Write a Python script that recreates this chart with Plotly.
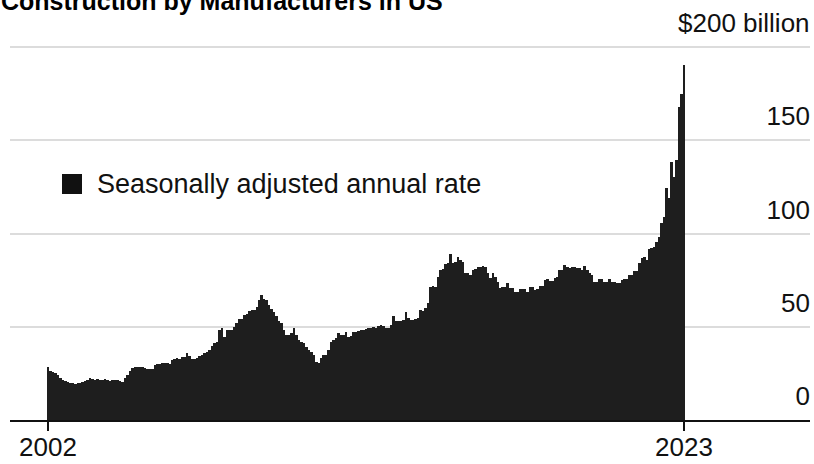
import pandas as pd
import plotly.graph_objects as go

# Monthly construction spending by manufacturers, seasonally adjusted annual rate ($ billion)
values = [
    28.2, 26.5, 25.5, 25.0, 24.0, 22.5, 21.5, 20.8, 20.3, 20.0, 19.7, 19.5,
    19.6, 20.0, 20.5, 21.0, 21.5, 22.5, 22.0, 21.5, 21.8, 21.5, 21.3, 21.8,
    21.2, 21.0, 21.4, 21.2, 21.5, 21.0, 20.5, 22.5, 24.0, 26.5, 28.0, 28.6,
    28.4, 28.5, 28.6, 28.0, 27.2, 27.2, 27.5, 29.5, 30.0, 30.2, 30.3, 30.5,
    30.8, 30.0, 32.0, 32.8, 33.0, 32.5, 33.8, 33.8, 36.0, 34.3, 32.5, 32.6,
    33.5, 34.3, 34.8, 35.7, 36.6, 37.5, 39.7, 41.4, 42.0, 48.2, 49.5, 44.7,
    48.0, 48.3, 48.5, 50.0, 51.8, 54.0, 54.2, 56.5, 57.0, 58.6, 59.0, 59.0,
    60.5, 64.3, 67.0, 65.0, 64.3, 61.5, 59.5, 58.0, 55.7, 53.0, 52.0, 48.0,
    45.5, 45.8, 46.4, 49.5, 45.5, 42.9, 42.0, 41.1, 39.3, 37.5, 36.6, 34.8,
    31.3, 30.4, 33.0, 34.8, 35.0, 37.5, 42.0, 43.0, 43.8, 46.4, 45.5, 45.6,
    47.3, 44.7, 45.0, 47.0, 47.2, 47.8, 48.2, 48.4, 48.6, 49.4, 49.6, 49.8,
    49.6, 50.5, 51.0, 50.5, 49.3, 49.5, 51.0, 55.7, 53.0, 53.2, 53.0, 53.5,
    58.0, 54.7, 53.6, 53.8, 54.0, 54.5, 59.0, 58.4, 59.8, 62.5, 71.4, 71.8,
    71.4, 76.8, 80.4, 81.0, 83.6, 84.3, 89.0, 84.0, 84.8, 87.5, 86.0, 84.8,
    79.0, 79.0, 77.7, 80.6, 80.8, 82.3, 82.3, 82.5, 82.0, 78.6, 75.9, 78.6,
    76.8, 74.0, 70.6, 71.4, 71.4, 73.6, 70.6, 70.6, 68.8, 68.8, 70.0, 70.0,
    70.0, 68.8, 71.4, 71.2, 69.7, 70.0, 71.8, 72.0, 75.2, 75.4, 74.7, 74.7,
    76.0, 76.8, 80.4, 80.4, 83.0, 82.0, 81.3, 82.3, 82.3, 81.3, 81.3, 80.4,
    82.5, 80.4, 78.6, 78.0, 74.0, 74.0, 75.4, 75.4, 74.0, 74.0, 75.4, 74.0,
    74.0, 73.6, 73.2, 75.0, 75.4, 75.4, 77.7, 78.0, 80.0, 80.0, 84.0, 86.7,
    87.5, 85.7, 91.5, 92.0, 92.9, 95.5, 98.2, 105.4, 109.0, 124.2, 118.8, 138.4,
    130.4, 139.3, 167.9, 175.0, 190.2,
]
dates = pd.date_range("2002-01-01", periods=len(values), freq="MS")

y_tickvals = [0, 50, 100, 150, 200]
y_ticktext = ["0", "50", "100", "150", ""]   # top label is the unit label below
unit_label = "$200 billion"
x_ticktext = ["2002", "2023"]

title_text = "Construction by Manufacturers in US"
legend_text = "Seasonally adjusted annual rate"

FONT = "Liberation Sans, Arial, Helvetica, sans-serif"
W, H = 814, 464
Y0_PX, Y200_PX = 420, 47          # pixel rows of the 0 and 200 gridlines
px_per_unit = (Y0_PX - Y200_PX) / 200
TOP_PX = 4
y_max = (Y0_PX - TOP_PX) / px_per_unit

L, R, T, B = 10, 4, TOP_PX, H - Y0_PX
plot_w = W - L - R
plot_h = H - T - B

# x range so the first bar sits ~38px from the plot's left edge
px_per_day = (684 - 48) / (dates[-1] - dates[0]).days
x_start = dates[0] - pd.Timedelta(days=(48 - L) / px_per_day)
x_end = x_start + pd.Timedelta(days=plot_w / px_per_day)
bar_width_ms = 31 * 86400000

fig = go.Figure()
fig.add_trace(go.Bar(
    x=dates, y=values,
    width=bar_width_ms,
    marker=dict(color="#1e1e1e", line=dict(width=0)),
    showlegend=False,
    hoverinfo="skip",
))

def px_x(x):
    return (x - L) / plot_w

def px_y(y):
    return (H - B - y) / plot_h

tick_font = dict(size=26, family=FONT, color="#111111")

fig.update_layout(
    width=W, height=H,
    margin=dict(l=L, r=R, t=T, b=B, pad=0, autoexpand=False),
    paper_bgcolor="white", plot_bgcolor="white",
    bargap=0.0,
    font=dict(family=FONT, color="#111111", size=24),
    xaxis=dict(
        type="date",
        range=[x_start, x_end],
        tickvals=[dates[0], dates[-1]],
        ticktext=x_ticktext,
        ticks="outside", ticklen=9, tickwidth=2, tickcolor="#111111",
        ticklabelstandoff=-6,
        ticklabeloverflow="allow",
        showline=True, linecolor="#111111", linewidth=2,
        showgrid=False, zeroline=False,
        automargin=False,
        tickfont=tick_font,
    ),
    yaxis=dict(
        range=[0, y_max],
        side="right",
        tickvals=y_tickvals,
        ticktext=y_ticktext,
        ticklabelposition="inside",
        ticklabelshift=-24,
        ticklabelstandoff=-3,
        ticks="",
        showline=False, zeroline=False,
        showgrid=True, gridcolor="#dcdcdc", gridwidth=2,
        automargin=False,
        tickfont=tick_font,
    ),
    shapes=[dict(
        type="rect", xref="paper", yref="paper",
        x0=px_x(62), x1=px_x(82), y0=px_y(194), y1=px_y(174),
        fillcolor="#111111", line=dict(width=0),
    )],
    annotations=[
        dict(
            text="<b>" + title_text + "</b>", xref="paper", yref="paper",
            x=px_x(-1), y=px_y(1.5), xanchor="left", yanchor="middle",
            showarrow=False, font=dict(size=25, family=FONT, color="#000000"),
        ),
        dict(
            text=unit_label, xref="paper", yref="y",
            x=px_x(812), y=200, yshift=24, xanchor="right", yanchor="middle",
            showarrow=False, font=tick_font,
        ),
        dict(
            text=legend_text, xref="paper", yref="paper",
            x=px_x(95), y=px_y(184), xanchor="left", yanchor="middle",
            showarrow=False, font=dict(size=27, family=FONT, color="#111111"),
        ),
    ],
)

fig.write_html("out.html")
